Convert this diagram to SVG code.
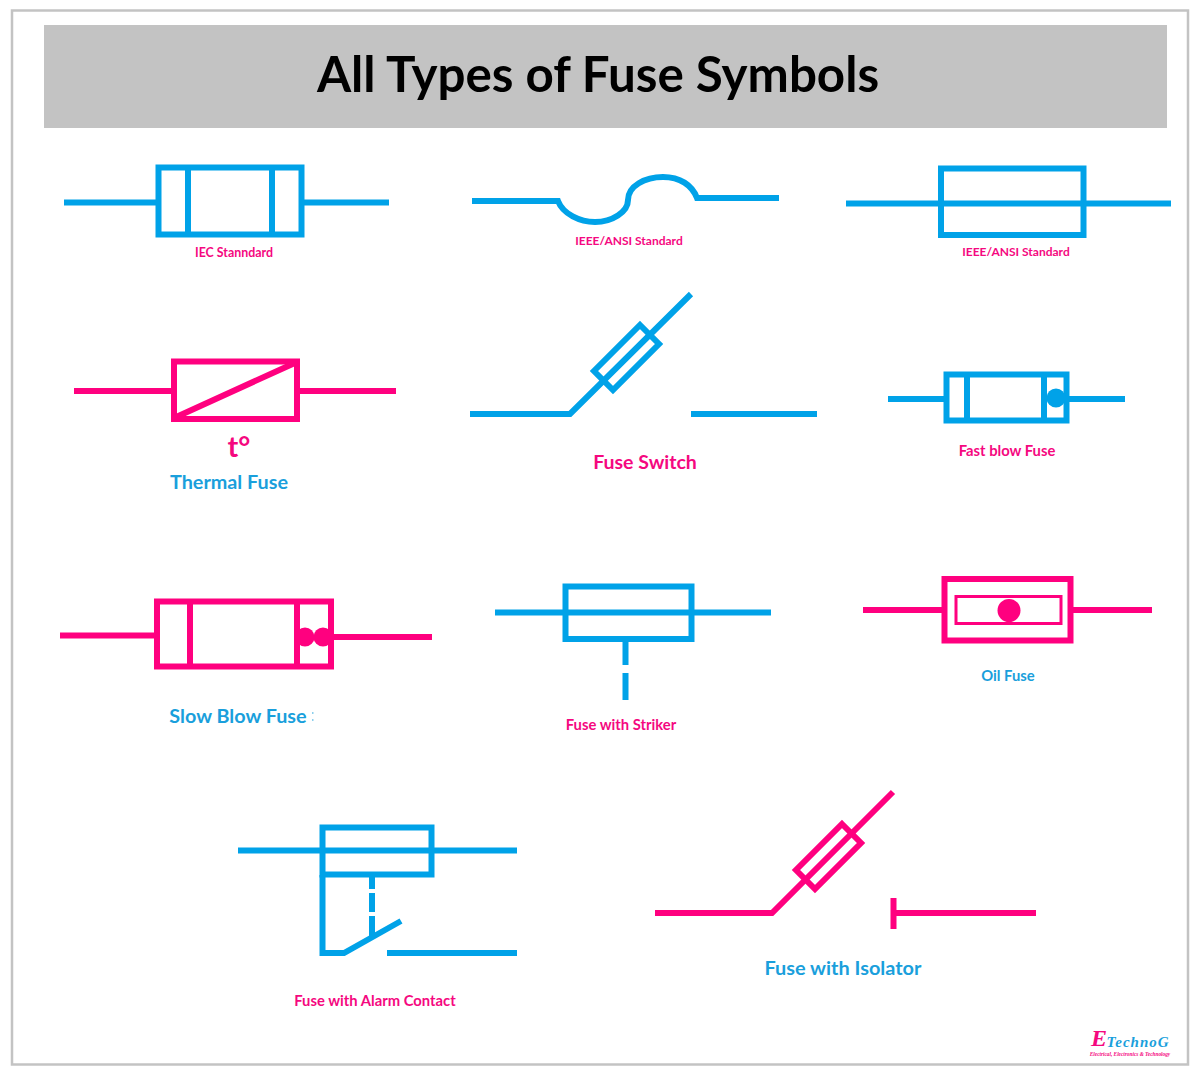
<svg xmlns="http://www.w3.org/2000/svg" width="1200" height="1073" viewBox="0 0 1200 1073">
<style>
text{font-family:"Lato","Open Sans","Liberation Sans",sans-serif;font-weight:700;text-anchor:middle}
.b{fill:none;stroke:#00a2e8;stroke-width:6}
.p{fill:none;stroke:#ff007f;stroke-width:6}
.tb{fill:#1a9fdc}
.tp{fill:#f5087f}
.fb{fill:#00a2e8}
.fp{fill:#ff007f}
</style>
<rect width="1200" height="1073" fill="#fff"/>
<rect x="12" y="10.500" width="1176" height="1054" fill="none" stroke="#c3c3c3" stroke-width="2.500"/>
<rect x="44" y="25" width="1123" height="103" fill="#c3c3c3"/>
<text x="598" y="92" font-size="49.300" fill="#000">All Types of Fuse Symbols</text>
<g id="iec-fuse">
<path class="b" d="M64 202.500H158M303 202.500H389M188 168V234M272 168V234"/>
<rect class="b" x="158.500" y="167.500" width="143" height="67"/>
<text class="tp" x="234" y="257" font-size="12.400">IEC Stanndard</text>
</g>
<g id="ieee-fuse-curve">
<path class="b" d="M472 201H558C563 214 580 222 595 222C612 222 628 212 628 200C628 186 645 177 663 177C680 177 692 185 697 198H779"/>
<text class="tp" x="629" y="245" font-size="12">IEEE/ANSI Standard</text>
</g>
<g id="ieee-fuse-box">
<path class="b" d="M846 203.500H1171"/>
<rect class="b" x="941" y="168.500" width="142.500" height="66.500"/>
<text class="tp" x="1016" y="256" font-size="12">IEEE/ANSI Standard</text>
</g>
<g id="thermal-fuse">
<path class="p" d="M74 391H173M298 391H396M174 418L297 362"/>
<rect class="p" x="174" y="361.500" width="123" height="57.500"/>
<text class="tp" x="239" y="457" font-size="29">t°</text>
<text class="tb" x="229" y="489" font-size="19.800">Thermal Fuse</text>
</g>
<g id="fuse-switch">
<path class="b" d="M470 414H570L691 294M691 414H817"/>
<path class="b" d="M640 325L659 344L613 390L594 371Z"/>
<text class="tp" x="645" y="469" font-size="19.500">Fuse Switch</text>
</g>
<g id="fast-blow-fuse">
<path class="b" d="M888 399H945M1069 399H1125M967 373V421M1044 373V421"/>
<rect class="b" x="946.500" y="374.500" width="120" height="46"/>
<circle class="fb" cx="1056" cy="398" r="9.500"/>
<text class="tp" x="1007" y="456" font-size="14.800">Fast blow Fuse</text>
</g>
<g id="slow-blow-fuse">
<path class="p" d="M60 635.500H156M333 637H432M190 601V667M297 601V667"/>
<rect class="p" x="157" y="601.500" width="174" height="65"/>
<circle class="fp" cx="305" cy="637" r="9.500"/>
<circle class="fp" cx="323" cy="637" r="9.500"/>
<text class="tb" x="238" y="723" font-size="19.800">Slow Blow Fuse</text>
<rect x="312" y="712" width="1.500" height="2" class="tb" opacity=".5"/>
<rect x="312" y="719" width="1.500" height="2" class="tb" opacity=".5"/>
</g>
<g id="fuse-with-striker">
<path class="b" d="M495 612.500H771"/>
<rect class="b" x="565.500" y="586.500" width="126" height="52.500"/>
<path class="b" d="M625.500 639V665M625.500 673V700"/>
<text class="tp" x="621" y="730" font-size="14.800">Fuse with Striker</text>
</g>
<g id="oil-fuse">
<path class="p" d="M863 610H943M1072 610H1152"/>
<rect class="p" x="944.500" y="579" width="126" height="61.500"/>
<rect x="956" y="596.500" width="105" height="27" fill="none" stroke="#ff007f" stroke-width="3"/>
<circle class="fp" cx="1009" cy="610.500" r="11.500"/>
<text class="tb" x="1008" y="681" font-size="14.800">Oil Fuse</text>
</g>
<g id="fuse-alarm-contact">
<path class="b" d="M238 850.500H517"/>
<rect class="b" x="322.500" y="827.500" width="109" height="47"/>
<path class="b" d="M322.500 875V953H344L401 921M372 875V889M372 893V912M372 916V938M387 953H517"/>
<text class="tp" x="375" y="1006" font-size="14.800">Fuse with Alarm Contact</text>
</g>
<g id="fuse-with-isolator">
<path class="p" d="M655 913H772L893 792M894 913H1036"/>
<path class="p" d="M842 824L861 843L815 889L796 870Z"/>
<rect class="fp" x="890.500" y="898" width="6" height="31"/>
<text class="tb" x="843" y="975" font-size="19.900">Fuse with Isolator</text>
</g>
<g id="logo">
<text x="1099" y="1046" font-size="24" fill="#f5087f" style="font-family:'Liberation Serif',serif;font-style:italic">E</text>
<text x="1138" y="1047" font-size="15" fill="#1a9fdc" letter-spacing="1" style="font-family:'Liberation Serif',serif;font-style:italic">TechnoG</text>
<text x="1130" y="1056" font-size="5.300" fill="#f5087f" style="font-family:'Liberation Serif',serif;font-style:italic">Electrical, Electronics &amp; Technology</text>
</g>
</svg>
